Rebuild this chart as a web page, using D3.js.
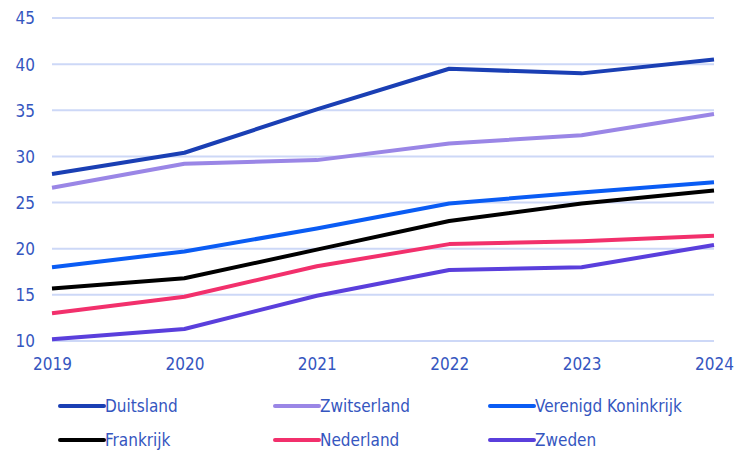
<!DOCTYPE html>
<html>
<head>
<meta charset="utf-8">
<script src="https://cdn.jsdelivr.net/npm/d3@7"></script>
<style>
  body { margin: 0; background: #fff; }
  text { font-family: "DejaVu Sans Condensed", "Noto Sans", sans-serif; }
</style>
</head>
<body>
<script>
// years on the x axis
let years = [2019, 2020, 2021, 2022, 2023, 2024];
let yTicks = [10, 15, 20, 25, 30, 35, 40, 45];

// values
let duitsland = [28.1, 30.4, 35.1, 39.5, 39.0, 40.5];
let zwitserland = [26.6, 29.2, 29.6, 31.4, 32.3, 34.6];
let verenigdKoninkrijk = [18.0, 19.7, 22.2, 24.9, 26.1, 27.2];
let frankrijk = [15.7, 16.8, 19.9, 23.0, 24.9, 26.3];
let nederland = [13.0, 14.8, 18.1, 20.5, 20.8, 21.4];
let zweden = [10.2, 11.3, 14.9, 17.7, 18.0, 20.4];

let names = ["Duitsland", "Zwitserland", "Verenigd Koninkrijk", "Frankrijk", "Nederland", "Zweden"];
let colors = ["#1a3fb4", "#9a86e6", "#0a5cf4", "#000000", "#f2306c", "#5a3fdc"];

let series = [duitsland, zwitserland, verenigdKoninkrijk, frankrijk, nederland, zweden]
  .map((vals, i) => ({ name: names[i], color: colors[i], values: vals }));

let w = 738, h = 454;
let margin = { top: 18, right: 24, bottom: 113, left: 52 };
let width = w - margin.left - margin.right, height = h - margin.top - margin.bottom;

let svg = d3.select("body").append("svg").attr("width", w).attr("height", h);
let g = svg.append("g").attr("transform", "translate(" + margin.left + "," + margin.top + ")");

let x = d3.scaleLinear().domain([2019, 2024]).range([0, width]);
let y = d3.scaleLinear().domain([10, 45]).range([height, 0]);

// gridlines
g.append("g")
  .selectAll("line")
  .data(yTicks)
  .enter().append("line")
  .attr("x1", 0).attr("x2", width)
  .attr("y1", d => y(d)).attr("y2", d => y(d))
  .attr("stroke", "#cdd8f7")
  .attr("stroke-width", 2);

// y axis labels
let yAxis = g.append("g")
  .call(d3.axisLeft(y).tickValues(yTicks).tickSize(0).tickPadding(17));
yAxis.select(".domain").remove();
yAxis.selectAll("text")
  .attr("fill", "#3556c0")
  .attr("font-size", "17px")
  .attr("dy", "0.35em");

// x axis labels
let xAxis = g.append("g")
  .attr("transform", "translate(0," + height + ")")
  .call(d3.axisBottom(x).tickValues(years).tickFormat(d3.format("d")).tickSize(0).tickPadding(17));
xAxis.select(".domain").remove();
xAxis.selectAll("text")
  .attr("fill", "#3556c0")
  .attr("font-size", "17px");

// lines
let line = d3.line()
  .x((d, i) => x(years[i]))
  .y(d => y(d));

g.selectAll(".series")
  .data(series)
  .enter().append("path")
  .attr("class", "series")
  .attr("d", d => line(d.values))
  .attr("fill", "none")
  .attr("stroke", d => d.color)
  .attr("stroke-width", 4)
  .attr("stroke-linejoin", "round");

// legend
let legendX = [60, 275, 490];
let legendY = [406, 440];
let legend = svg.selectAll(".legend")
  .data(series)
  .enter().append("g")
  .attr("class", "legend")
  .attr("transform", (d, i) => "translate(" + legendX[i % 3] + "," + legendY[Math.floor(i / 3)] + ")");

legend.append("line")
  .attr("x1", 0).attr("x2", 44)
  .attr("stroke", d => d.color)
  .attr("stroke-width", 4)
  .attr("stroke-linecap", "round");

legend.append("text")
  .attr("x", 45)
  .attr("dy", "0.35em")
  .attr("fill", "#3556c0")
  .attr("font-size", "17px")
  .text(d => d.name);
</script>
</body>
</html>
